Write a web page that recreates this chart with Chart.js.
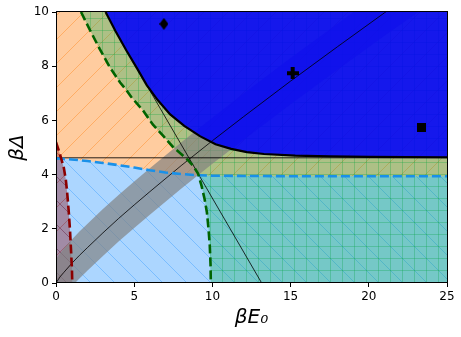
<!DOCTYPE html>
<html><head><meta charset="utf-8">
<script src="https://cdn.jsdelivr.net/npm/chart.js@4.4.1/dist/chart.umd.min.js"></script>
<style>html,body{margin:0;padding:0;background:#fff;overflow:hidden}#wrap{width:461px;height:337px}</style>
</head><body><div id="wrap"><canvas id="c" width="461" height="337"></canvas></div>
<script>
// ---- axis ranges and ticks ----
const xRange = [0, 25];
const yRange = [0, 10];
const xTicks = [0, 5, 10, 15, 20, 25];
const yTicks = [0, 2, 4, 6, 8, 10];
const xTitle = 'βE₀';
const yTitle = 'βΔ';

// ---- blue dashed boundary (orange above / light blue below) ----
const blueDashX = [0, 1, 2, 3, 4, 5, 6, 7, 8, 9, 10, 12, 15, 20, 25];
const blueDashY = [4.6, 4.56, 4.5, 4.43, 4.35, 4.26, 4.16, 4.08, 4.02, 3.98, 3.96, 3.95, 3.94, 3.94, 3.94];

// ---- green dashed boundary (green region to its right) ----
const greenDashX = [1.6, 2.2, 2.8, 3.43, 4.1, 4.5, 4.8, 5.56, 6.2, 6.9, 7.48, 8.0, 8.44, 8.8, 9.08, 9.3, 9.5, 9.65, 9.75, 9.83, 9.88, 9.9];
const greenDashY = [10, 9.3, 8.63, 7.97, 7.4, 7.12, 6.87, 6.37, 5.84, 5.4, 5.02, 4.76, 4.53, 4.3, 4.04, 3.6, 3.1, 2.6, 2.0, 1.4, 0.7, 0];

// ---- red dashed boundary (red region to its left) ----
const redDashX = [0, 0.2, 0.33, 0.5, 0.63, 0.72, 0.82, 0.9, 0.97, 1.02, 1.04];
const redDashY = [5.2, 4.85, 4.6, 4.25, 3.8, 3.3, 2.6, 1.9, 1.1, 0.5, 0];

// ---- black solid boundary (blue region above) ----
const blackCurveX = [3.17, 3.8, 4.5, 5.2, 5.8, 6.5, 7.3, 8.2, 9.2, 10.2, 11.2, 12.2, 13.3, 15.3, 17.5, 20, 25];
const blackCurveY = [10, 9.3, 8.58, 7.9, 7.3, 6.75, 6.22, 5.8, 5.42, 5.12, 4.95, 4.83, 4.76, 4.70, 4.67, 4.655, 4.64];

// ---- thin diagonal line and grey band around it ----
const diagX = [0, 0.25, 0.5, 1, 1.5, 2, 3, 4, 5, 6, 8, 10, 12, 15, 18, 21, 25];
const diagY = [0, 0.22, 0.39, 0.72, 1.02, 1.30, 1.85, 2.38, 2.88, 3.37, 4.33, 5.25, 6.14, 7.45, 8.72, 9.97, 11.59];
const bandUpperY = [0.88, 1.09, 1.26, 1.6, 1.9, 2.18, 2.73, 3.25, 3.75, 4.23, 5.18, 6.10, 6.99, 8.30, 9.57, 10.82, 12.44];
const bandLowerY = [-0.85, -0.63, -0.46, -0.13, 0.17, 0.45, 1.00, 1.53, 2.03, 2.52, 3.48, 4.40, 5.29, 6.60, 7.87, 9.12, 10.74];

// ---- thin steep line ----
const steepX = [5.8, 13.15];
const steepY = [7.3, 0];

// ---- horizontal line ----
const hLineY = 4.62;

// ---- markers ----
const diamondPt = [6.9, 9.56];
const plusPt = [15.13, 7.74];
const squarePt = [23.39, 5.74];

// ---------------------------------------------------------
const zip = (xs, ys) => xs.map((x, i) => ({x: x, y: ys[i]}));
const canvas = document.getElementById('c');
const mainCtx = canvas.getContext('2d');

function hatch(fill, stroke, kind) {
  const s = kind === '+' ? 12 : 24;
  const c = document.createElement('canvas'); c.width = s; c.height = s;
  const g = c.getContext('2d');
  g.fillStyle = fill; g.fillRect(0, 0, s, s);
  g.strokeStyle = stroke; g.lineWidth = 1;
  g.beginPath();
  if (kind === '+') { g.moveTo(0, 6.5); g.lineTo(s, 6.5); g.moveTo(6.5, 0); g.lineTo(6.5, s); }
  if (kind === '/' || kind === 'x') { for (const o of [-s, 0, s]) { g.moveTo(o, s); g.lineTo(o + s, 0); } }
  if (kind === '\\' || kind === 'x') { for (const o of [-s, 0, s]) { g.moveTo(o, 0); g.lineTo(o + s, s); } }
  g.stroke();
  return mainCtx.createPattern(c, 'repeat');
}

function marker(kind) {
  const c = document.createElement('canvas');
  const g = c.getContext('2d');
  if (kind === 'd') {
    c.width = 9; c.height = 12;
    g.fillStyle = '#000'; g.beginPath();
    g.moveTo(4.5, 0); g.lineTo(9, 6); g.lineTo(4.5, 12); g.lineTo(0, 6); g.closePath(); g.fill();
  } else if (kind === 'P') {
    c.width = 12; c.height = 12;
    g.fillStyle = '#000'; g.fillRect(4, 0, 4, 12); g.fillRect(0, 4, 12, 4);
  } else {
    c.width = 9; c.height = 9;
    g.fillStyle = '#000'; g.fillRect(0, 0, 9, 9);
  }
  return c;
}

const orangeFill = hatch('rgba(255,127,14,0.40)', 'rgba(255,127,14,0.40)', '/');
const lightBlueFill = hatch('rgba(30,144,255,0.37)', 'rgba(30,144,255,0.35)', '\\');
const greenFill = hatch('rgba(0,168,80,0.32)', 'rgba(0,160,60,0.28)', '+');
const redFill = hatch('rgba(139,0,0,0.35)', 'rgba(139,0,0,0.30)', 'x');

const greenPoly = zip(greenDashX, greenDashY).concat([{x: xRange[1], y: yRange[0]}, {x: xRange[1], y: yRange[1]}]);
const redPoly = zip(redDashX, redDashY).concat([{x: xRange[0], y: yRange[0]}]);
const bandPoly = zip(diagX, bandUpperY).concat(zip(diagX.slice().reverse(), bandLowerY.slice().reverse()));

const base = {showLine: true, pointRadius: 0, borderWidth: 0, clip: 0};
const datasets = [
  Object.assign({}, base, {label: 'orange', data: zip(blueDashX, blueDashY), fill: 'end', backgroundColor: orangeFill, order: 100}),
  Object.assign({}, base, {label: 'lightblue', data: zip(blueDashX, blueDashY), fill: 'start', backgroundColor: lightBlueFill, order: 99}),
  Object.assign({}, base, {label: 'green', data: greenPoly, fill: 'shape', backgroundColor: greenFill, order: 98}),
  Object.assign({}, base, {label: 'red', data: redPoly, fill: 'shape', backgroundColor: redFill, order: 97}),
  Object.assign({}, base, {label: 'band', data: bandPoly, fill: 'shape', backgroundColor: 'rgba(128,128,128,0.68)', order: 96}),
  Object.assign({}, base, {label: 'hline', data: [{x: xRange[0], y: hLineY}, {x: xRange[1], y: hLineY}], fill: false, borderWidth: 1, borderColor: 'rgba(0,0,0,0.85)', order: 95}),
  Object.assign({}, base, {label: 'steep', data: zip(steepX, steepY), fill: false, borderWidth: 0.8, borderColor: '#000', order: 94}),
  Object.assign({}, base, {label: 'blue', data: zip(blackCurveX, blackCurveY), fill: 'end', backgroundColor: 'rgba(0,0,250,0.88)', order: 93}),
  Object.assign({}, base, {label: 'diag', data: zip(diagX, diagY), fill: false, borderWidth: 0.8, borderColor: '#000', order: 92}),
  Object.assign({}, base, {label: 'blackcurve', data: zip(blackCurveX, blackCurveY), fill: false, borderWidth: 2.2, borderColor: '#000', order: 91}),
  Object.assign({}, base, {label: 'bluedash', data: zip(blueDashX, blueDashY), fill: false, borderWidth: 2.6, borderColor: '#1a90e8', borderDash: [9, 4], order: 90}),
  Object.assign({}, base, {label: 'greendash', data: zip(greenDashX, greenDashY), fill: false, borderWidth: 2.6, borderColor: '#006400', borderDash: [9, 4], order: 89}),
  Object.assign({}, base, {label: 'reddash', data: zip(redDashX, redDashY), fill: false, borderWidth: 2.6, borderColor: '#8b0000', borderDash: [9, 4], order: 88}),
  {label: 'diamond', data: [{x: diamondPt[0], y: diamondPt[1]}], showLine: false, pointRadius: 5, pointStyle: marker('d'), order: 3, clip: false},
  {label: 'plus', data: [{x: plusPt[0], y: plusPt[1]}], showLine: false, pointRadius: 5, pointStyle: marker('P'), order: 2, clip: false},
  {label: 'square', data: [{x: squarePt[0], y: squarePt[1]}], showLine: false, pointRadius: 5, pointStyle: marker('s'), order: 1, clip: false}
];

const frame = {
  id: 'frame',
  afterDatasetsDraw(chart) {
    const a = chart.chartArea, g = chart.ctx;
    g.save(); g.strokeStyle = '#000'; g.lineWidth = 1;
    g.strokeRect(Math.round(a.left) + 0.5, Math.round(a.top) - 0.5, Math.round(a.right - a.left), Math.round(a.bottom - a.top));
    g.restore();
  }
};

const tickFont = {family: 'DejaVu Sans', size: 12};
const titleFont = {family: 'DejaVu Sans', size: 20, style: 'italic'};

new Chart(canvas, {
  type: 'scatter',
  data: {datasets: datasets},
  options: {
    responsive: false, animation: false, events: [], devicePixelRatio: 1,
    layout: {padding: {top: 12, right: 14, left: 0, bottom: 0}},
    plugins: {legend: {display: false}, tooltip: {enabled: false}},
    scales: {
      x: {
        type: 'linear', min: xRange[0], max: xRange[1], position: 'bottom',
        afterBuildTicks: s => { s.ticks = xTicks.map(v => ({value: v})); },
        afterFit: s => { s.height = 54; },
        ticks: {font: tickFont, color: '#000', padding: 3, callback: v => String(v)},
        grid: {display: true, drawOnChartArea: false, drawTicks: true, tickLength: 4, tickColor: '#000'},
        border: {display: false},
        title: {display: true, text: xTitle, font: titleFont, color: '#000', padding: {top: 0, bottom: 7}}
      },
      y: {
        type: 'linear', min: yRange[0], max: yRange[1], position: 'left',
        afterBuildTicks: s => { s.ticks = yTicks.map(v => ({value: v})); },
        afterFit: s => { s.width = 56; },
        ticks: {font: tickFont, color: '#000', padding: 3, callback: v => String(v)},
        grid: {display: true, drawOnChartArea: false, drawTicks: true, tickLength: 4, tickColor: '#000'},
        border: {display: false},
        title: {display: true, text: yTitle, font: titleFont, color: '#000', padding: {top: 6, bottom: 0}}
      }
    }
  },
  plugins: [frame]
});
</script></body></html>
